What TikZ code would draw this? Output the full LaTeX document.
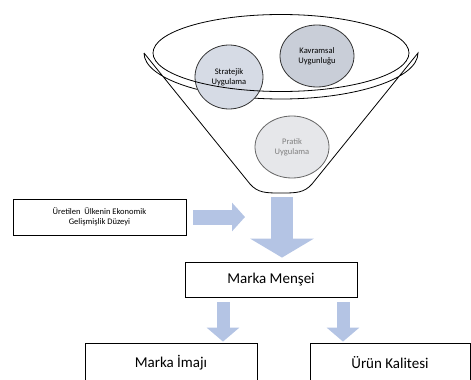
\documentclass[tikz,border=0pt]{standalone}
\usepackage{fontspec}
\setmainfont{Carlito}
\usepackage{tikz}
\usetikzlibrary{arrows.meta, shapes.geometric, positioning}
\definecolor{arrow_blue}{RGB}{180,196,228}
\definecolor{circ_blue}{RGB}{214,219,229}
\definecolor{circ_dark}{RGB}{201,206,216}
\definecolor{circ_light}{RGB}{230,231,234}

\begin{document}
\begin{tikzpicture}[x=1pt, y=-1pt,
    box/.style={rectangle, draw, line width=0.8pt, fill=white, inner sep=0pt},
    bubble/.style={ellipse, draw=black!80, line width=0.8pt, inner sep=0pt, align=center, font=\fontsize{8.5}{10}\selectfont},
    bigarrow/.style={draw=arrow_blue, line width=22pt, -{Triangle[length=19pt, width=63pt, fill=arrow_blue]}},
    midarrow/.style={draw=arrow_blue, line width=15pt, -{Triangle[length=13pt, width=28pt, fill=arrow_blue]}},
    smallarrow/.style={draw=arrow_blue, line width=13pt, -{Triangle[length=14pt, width=32pt, fill=arrow_blue]}}]
      \useasboundingbox (0,0) rectangle (471,380);
      \clip (0,0) rectangle (471,380);
      % funnel
      \draw[line width=0.8pt] (144,53) -- (250,184) .. controls (258,193) and (266,193) .. (281,193)
        .. controls (296,193) and (304,193) .. (312,184) -- (418,53)
        arc[start angle=0, end angle=180, x radius=137, y radius=46];
      \coordinate (neck) at (282,193);
      \node[bubble, fill=circ_blue, minimum width=68pt, minimum height=64pt] (strat) at (229,77) {Stratejik\\Uygulama};
      \node[bubble, fill=circ_dark, minimum width=74pt, minimum height=62pt] (kavram) at (317,56) {Kavramsal\\Uygunluğu};
      \node[bubble, fill=circ_light, draw=black!60, minimum width=74pt, minimum height=62pt, text=black!50] (pratik) at (292,147) {Pratik\\Uygulama};
      \draw[line width=0.8pt] (281,53) ellipse[x radius=128, y radius=38.5];
      % boxes
      \node[box, minimum width=173pt, minimum height=36pt, align=center, font=\fontsize{8.5}{10.5}\selectfont] (econ) at (99.5,217) {Üretilen\ \ Ülkenin Ekonomik\\Gelişmişlik Düzeyi};
      \node[box, minimum width=172pt, minimum height=35pt, font=\fontsize{15}{17}\selectfont] (mm) at (271,279.5) {Marka Menşei};
      \node[box, minimum width=172pt, minimum height=40pt, font=\fontsize{15}{17}\selectfont] (imaj) at (171,363) {Marka İmajı};
      \node[box, minimum width=160pt, minimum height=40pt, font=\fontsize{15}{17}\selectfont] (urun) at (390,363) {Ürün Kalitesi};
      \coordinate (join) at (245,217);
      % arrows
      \draw[midarrow, shorten <=7pt] (econ.east |- join) -- (join);
      \draw[bigarrow, shorten <=4pt, shorten >=4pt] (neck) -- (mm.north -| neck);
      \draw[smallarrow, shorten <=5pt, shorten >=1pt] ([xshift=-48pt]mm.south) -- ([xshift=-48pt]mm.south |- imaj.north);
      \draw[smallarrow, shorten <=5pt, shorten >=1pt] ([xshift=72pt]mm.south) -- ([xshift=72pt]mm.south |- urun.north);
\end{tikzpicture}
\end{document}
